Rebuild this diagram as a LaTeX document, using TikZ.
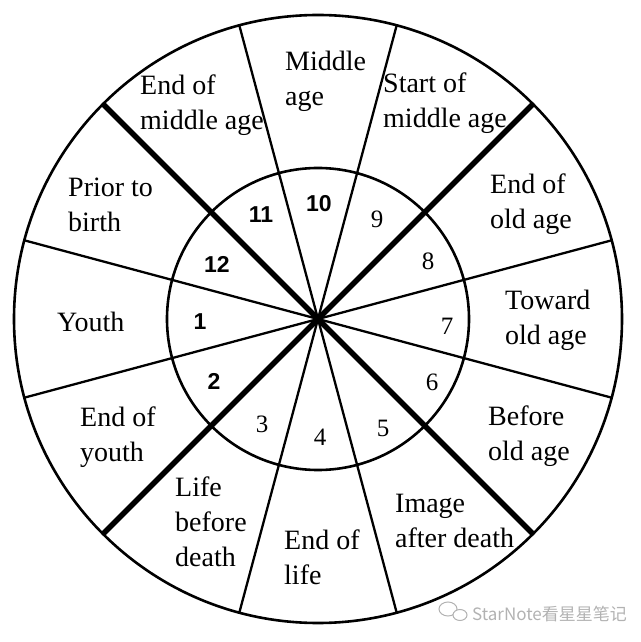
\documentclass[tikz,border=0pt]{standalone}
\usepackage{fontspec}
\usepackage{tikz}
\setmainfont{Liberation Serif}
\newfontfamily\numfont{Liberation Sans}
\newfontfamily\cjkfont{Noto Sans CJK SC}

\tikzset{
	lbl/.style={anchor=west,align=left,inner sep=0pt,font=\fontsize{28}{35}\selectfont},
	numsf/.style={inner sep=0pt,font=\fontsize{23}{23}\selectfont\numfont\bfseries},
	numrm/.style={inner sep=0pt,font=\fontsize{25}{25}\selectfont},
	spoke/.style={line width=2.3pt},
	bigspoke/.style={line width=5.5pt},
	ring/.style={line width=2.6pt}
}

\begin{document}
\begin{tikzpicture}[x=1pt,y=1pt]
	\useasboundingbox (-318,-323) rectangle (322,319);
	
	\coordinate (c) at (0,0);
	\draw[ring] (c) circle (304);
	\draw[ring] (c) circle (151);
	
	% spokes
	\coordinate (s1) at (15:304);
	\coordinate (s2) at (45:304);
	\coordinate (s3) at (75:304);
	\coordinate (s4) at (105:304);
	\coordinate (s5) at (135:304);
	\coordinate (s6) at (165:304);
	\coordinate (s7) at (195:304);
	\coordinate (s8) at (225:304);
	\coordinate (s9) at (255:304);
	\coordinate (s10) at (285:304);
	\coordinate (s11) at (315:304);
	\coordinate (s12) at (345:304);
	
	\path[spoke] (c) edge (s1) edge (s3) edge (s4) edge (s6);
	\path[spoke] (c) edge (s7) edge (s9) edge (s10) edge (s12);
	\path[bigspoke] (c) edge (s2) edge (s5) edge (s8) edge (s11);
	
	% numbers
	\node[numsf] (n1) at (-118,-3) {1};
	\node[numsf] (n2) at (-104,-62) {2};
	\node[numrm] (n3) at (-56,-105) {3};
	\node[numrm] (n4) at (2,-118) {4};
	\node[numrm] (n5) at (65,-109) {5};
	\node[numrm] (n6) at (114,-63) {6};
	\node[numrm] (n7) at (129,-7) {7};
	\node[numrm] (n8) at (110,58) {8};
	\node[numrm] (n9) at (59,100) {9};
	\node[numsf] (n10) at (1,115) {10};
	\node[numsf] (n11) at (-57,104) {11};
	\node[numsf] (n12) at (-101,55) {12};
	
	% stages
	\node[lbl] (youth) at (-261,-3) {Youth};
	\node[lbl] (endyouth) at (-238,-118) {End of\\youth};
	\node[lbl] (lifebefore) at (-143,-203) {Life\\before\\death};
	\node[lbl] (endlife) at (-34,-238) {End of\\life};
	\node[lbl] (image) at (77,-202) {Image\\after death};
	\node[lbl] (beforeold) at (170,-117) {Before\\old age};
	\node[lbl] (towardold) at (187,-1) {Toward\\old age};
	\node[lbl] (endold) at (172,115) {End of\\old age};
	\node[lbl] (startmid) at (65,216) {Start of\\middle age};
	\node[lbl] (middle) at (-33,238) {Middle\\age};
	\node[lbl] (endmid) at (-178,214) {End of\\middle age};
	\node[lbl] (prior) at (-250,114) {Prior to\\birth};
	
	% watermark
	\draw[black!30,line width=1pt] (130,-290) ellipse (9 and 7);
	\draw[black!30,line width=1pt,fill=white] (142,-296) ellipse (7 and 5.5);
	\node[black!30,inner sep=0pt,anchor=west,font=\fontsize{17}{17}\selectfont\cjkfont] (mark) at (154,-295) {StarNote看星星笔记};
\end{tikzpicture}
\end{document}
